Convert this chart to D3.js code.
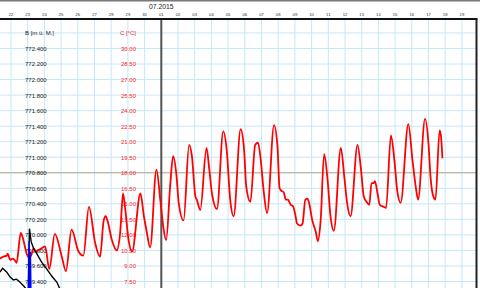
<!DOCTYPE html>
<html>
<head>
<meta charset="utf-8">
<script src="https://cdn.jsdelivr.net/npm/d3@7"></script>
<style>
  body { margin: 0; background: #fff; }
  svg { display: block; font-family: "Liberation Sans", Arial, sans-serif; }
</style>
</head>
<body>
<div id="chart"></div>
<script>
const width = 480;
const height = 288;

// all times are hours since 22.06.2015 00:00
const tempHours = [-16, -11, -6, -5, -1, 2, 6, 8, 14, 17, 23, 26, 30, 32, 36, 39, 44, 49, 55, 63,
    73, 79, 87, 97, 104, 112, 121, 128, 133, 136, 139, 145, 152, 157, 161, 164, 169, 174, 186, 191,
    195, 200, 209, 215, 219, 223, 229, 233, 238, 241, 248, 256, 260, 265, 267, 272, 281, 285, 289, 296,
    305, 310, 315, 320, 330, 335, 338, 344, 351, 355, 359, 363, 368, 378, 383, 386, 388, 392, 395, 398,
    402, 405, 409, 411, 416, 419, 423, 426, 428, 433, 438, 441, 445, 450, 455, 459, 464, 474, 479, 483,
    488, 498, 503, 507, 512, 515, 518, 521, 523, 527, 530, 536, 539, 546, 551, 555, 560, 571, 577, 582,
    585, 595, 600, 603, 607, 610, 616, 618, 620];
const tempValues = [9.7, 9.9, 10.0, 10.2, 9.6, 9.7, 9.5, 9.3, 12.2, 11.7, 10.1, 9.8, 10.2, 10.7, 10.4, 10.5, 10.7, 10.9, 8.7, 12.1,
    9.9, 8.5, 12.5, 10.4, 10.0, 14.7, 11.2, 9.9, 13.3, 13.8, 13.3, 11.5, 10.5, 12.3, 16.0, 14.6, 11.5, 10.4, 16.0, 13.8,
    12.3, 10.8, 18.3, 15.1, 12.7, 11.5, 17.0, 19.6, 17.6, 15.1, 13.4, 20.7, 19.6, 15.7, 15.4, 14.4, 20.4, 18.3, 15.9, 14.5,
    22.0, 20.2, 15.4, 13.8, 22.2, 20.2, 16.7, 15.2, 20.7, 20.9, 19.2, 16.3, 14.1, 22.6, 20.5, 16.5, 16.3, 16.1, 15.4, 15.4,
    14.9, 14.8, 13.8, 13.1, 12.9, 13.1, 15.4, 15.5, 15.2, 13.4, 12.3, 11.4, 13.4, 19.8, 17.3, 13.9, 12.4, 20.4, 17.6, 15.1,
    13.8, 20.7, 18.3, 15.7, 15.1, 14.9, 17.0, 17.0, 17.2, 15.9, 14.9, 14.7, 14.6, 21.6, 19.2, 16.3, 15.1, 22.7, 19.2, 16.5,
    15.4, 23.2, 20.8, 17.5, 15.7, 15.4, 22.1, 21.5, 19.4];

const levelHours = [-16, -12, -6, -1.5, 3.5, 8, 13, 17.5, 23, 24.5, 26.5, 29, 32, 37, 44, 51.5, 58.5, 66, 70.5, 75];
const levelValues = [769.52, 769.57, 769.52, 769.46, 769.42, 769.43, 769.39, 769.35, 769.29, 769.16,
    770.08, 769.91, 769.84, 769.76, 769.65, 769.56, 769.47, 769.39, 769.30, 769.23];

const blueHours = [25.3, 26.2, 27.1, 27.9, 28.8];
const blueValues = [769.16, 769.92, 769.16, 769.78, 769.16];

const levelTicks = [772.4, 772.2, 772.0, 771.8, 771.6, 771.4, 771.2, 771.0, 770.8,
    770.6, 770.4, 770.2, 770.0, 769.8, 769.6, 769.4];
const tempTicks = [30, 28.5, 27, 25.5, 24, 22.5, 21, 19.5, 18, 16.5, 15, 13.5, 12, 10.5, 9, 7.5];
const gridLevels = d3.range(769.4, 772.7, 0.2);
const monthLabel = "07.2015";
const levelTitle = "B [m ü. M.]";
const tempTitle = "C [°C]";
const refLevel = 770.8;

const t0 = new Date(2015, 5, 22);
const toDate = h => new Date(t0.getTime() + h * 3600e3);

const x = d3.scaleTime()
    .domain([t0, new Date(2015, 6, 19)])
    .range([11, 461.9]);
const yLevel = d3.scaleLinear().domain([769.4, 772.4]).range([281.5, 48.5]);
const yTemp = d3.scaleLinear().domain([7.5, 30]).range([281.5, 48.5]);

const plotRight = 476.5;
const plotTop = 19;

const svg = d3.select("#chart")
    .append("svg")
    .attr("width", width)
    .attr("height", height);

svg.append("defs").append("clipPath").attr("id", "plot")
    .append("rect")
    .attr("x", 0).attr("y", plotTop)
    .attr("width", plotRight).attr("height", height - plotTop);

// grid
const days = d3.timeDay.range(new Date(2015, 5, 21), new Date(2015, 6, 20));
svg.append("g")
    .selectAll("line")
    .data(days)
    .join("line")
    .attr("x1", d => x(d)).attr("x2", d => x(d))
    .attr("y1", plotTop).attr("y2", height)
    .attr("stroke", "#c4e8f6")
    .attr("stroke-width", 1);

svg.append("g")
    .selectAll("line")
    .data(gridLevels)
    .join("line")
    .attr("x1", 0).attr("x2", plotRight)
    .attr("y1", d => yLevel(d)).attr("y2", d => yLevel(d))
    .attr("stroke", "#c4e8f6")
    .attr("stroke-width", 1);

// reference level
svg.append("line")
    .attr("x1", 0).attr("x2", plotRight)
    .attr("y1", yLevel(refLevel)).attr("y2", yLevel(refLevel))
    .attr("stroke", "#b9a98d")
    .attr("stroke-width", 1);

// month boundary
svg.append("line")
    .attr("x1", x(new Date(2015, 6, 1))).attr("x2", x(new Date(2015, 6, 1)))
    .attr("y1", plotTop).attr("y2", height)
    .attr("stroke", "#555")
    .attr("stroke-width", 2);

// axes
const levelAxis = svg.append("g")
    .attr("transform", "translate(25,0)")
    .call(d3.axisRight(yLevel).tickValues(levelTicks).tickSize(0).tickPadding(0).tickFormat(d3.format(".3f")));
levelAxis.select(".domain").remove();
levelAxis.selectAll("text")
    .attr("font-size", 6)
    .attr("font-family", "Liberation Sans, Arial, sans-serif")
    .attr("fill", "#222");

const tempAxis = svg.append("g")
    .attr("transform", "translate(136,0)")
    .call(d3.axisLeft(yTemp).tickValues(tempTicks).tickSize(0).tickPadding(0).tickFormat(d3.format(".2f")));
tempAxis.select(".domain").remove();
tempAxis.selectAll("text")
    .attr("font-size", 6)
    .attr("font-family", "Liberation Sans, Arial, sans-serif")
    .attr("fill", "#ff1a1a");

svg.append("text")
    .attr("x", 25).attr("y", yLevel(772.6)).attr("dy", "0.32em")
    .attr("font-size", 6).attr("fill", "#222")
    .text(levelTitle);
svg.append("text")
    .attr("x", 136).attr("y", yLevel(772.6)).attr("dy", "0.32em")
    .attr("text-anchor", "end")
    .attr("font-size", 6).attr("fill", "#ff1a1a")
    .text(tempTitle);

// day labels
svg.append("g")
    .selectAll("text")
    .data(d3.timeDay.range(t0, new Date(2015, 6, 20)))
    .join("text")
    .attr("x", d => x(d)).attr("y", 16)
    .attr("text-anchor", "middle")
    .attr("font-size", 4.2)
    .attr("fill", "#333")
    .text(d3.timeFormat("%d"));

svg.append("text")
    .attr("x", x(new Date(2015, 6, 1))).attr("y", 9)
    .attr("text-anchor", "middle")
    .attr("font-size", 6.8)
    .attr("fill", "#222")
    .text(monthLabel);

// series
const plot = svg.append("g").attr("clip-path", "url(#plot)");

const tempLine = d3.line().x(d => x(toDate(d[0]))).y(d => yTemp(d[1])).curve(d3.curveMonotoneX);
const levelLine = d3.line().x(d => x(toDate(d[0]))).y(d => yLevel(d[1]));

plot.append("path")
    .datum(d3.zip(tempHours, tempValues))
    .attr("fill", "none")
    .attr("stroke", "#ff0000")
    .attr("stroke-width", 1.8)
    .attr("stroke-linejoin", "round")
    .attr("d", tempLine);

plot.append("path")
    .datum(d3.zip(levelHours, levelValues))
    .attr("fill", "none")
    .attr("stroke", "#000")
    .attr("stroke-width", 1.4)
    .attr("d", levelLine);

plot.append("path")
    .datum(d3.zip(blueHours, blueValues))
    .attr("fill", "none")
    .attr("stroke", "#0000ff")
    .attr("stroke-width", 1.4)
    .attr("d", levelLine);

// frame
svg.append("line")
    .attr("x1", 0).attr("x2", width).attr("y1", 0.75).attr("y2", 0.75)
    .attr("stroke", "#777").attr("stroke-width", 1.5);
svg.append("line")
    .attr("x1", 0).attr("x2", plotRight + 1).attr("y1", plotTop).attr("y2", plotTop)
    .attr("stroke", "#111").attr("stroke-width", 2);
svg.append("line")
    .attr("x1", plotRight).attr("x2", plotRight).attr("y1", plotTop).attr("y2", height)
    .attr("stroke", "#222").attr("stroke-width", 2);
</script>
</body>
</html>
